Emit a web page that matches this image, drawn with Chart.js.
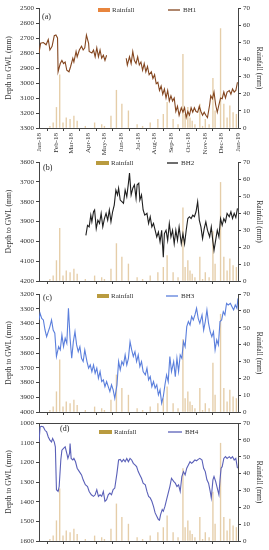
<!DOCTYPE html>
<html><head><meta charset="utf-8">
<script src="https://cdn.jsdelivr.net/npm/chart.js@4/dist/chart.umd.min.js"></script>
<style>
html,body{margin:0;padding:0;background:#fff;}
#wrap{position:relative;width:269px;height:550px;overflow:hidden;background:#fff;}
canvas{position:absolute;left:0;}
</style></head><body>
<div id="wrap">
<canvas id="ca" width="269" height="178" style="top:0px"></canvas>
<canvas id="cb" width="269" height="140" style="top:150px"></canvas>
<canvas id="cc" width="269" height="136" style="top:284px"></canvas>
<canvas id="cd" width="269" height="136" style="top:414px"></canvas>
</div>
<script>
// x axis: day of year 2018 (0 = 1 Jan 2018)
const monthStarts = [0,31,59,90,120,151,181,212,243,273,304,334,365];
const monthLabels = ['Jan-18','Feb-18','Mar-18','Apr-18','May-18','Jun-18','Jul-18','Aug-18','Sep-18','Oct-18','Nov-18','Dec-18','Jan-19'];

// Rainfall (mm), same station in all panels
const rainDays = [20,26,32,38,44,50,57,64,70,85,102,115,120,132,142,152,164,180,190,204,218,228,235,246,255,264,268,273,277,281,286,295,300,305,312,319,323,333,339,345,350,356,362];
const rainMm   = [1,3,12,31,3,6,5,7,4,1,3,2,1,7,22,14,10,2,1,3,5,8,15,5,2,43,8,12,6,4,2,14,1,5,2,29,10,58,14,6,13,9,8];

// BH1 depth to GWL (mm)
const bh1Days  = [0,3,8,13,17,20,24,28,31,34,35,39,42,45,48,51,55,58,62,64,68,70,74,78,81,84,87,91,92,97,100,103,106,109,112,115,118,121,124,140,160,162,166,169,172,175,178,181,184,187,190,193,196,199,202,206,209,212,215,218,221,224,227,230,233,236,239,242,245,248,251,254,257,261,264,267,270,273,276,279,282,285,288,291,294,297,300,303,306,309,313,315,318,321,324,327,330,333,336,339,342,345,349,352,355,358,361,364];
const bh1Depth = [2800,2735,2730,2745,2710,2780,2755,2685,2680,2700,2925,2870,2850,2870,2860,2915,2925,2890,2835,2860,2790,2825,2780,2755,2780,2765,2680,2735,2790,2800,2780,2825,2765,2825,2780,2835,2815,2850,2815,null,2835,2880,2825,2870,2790,2850,2870,2825,2880,2860,2915,2870,2925,2890,2945,2925,2970,2945,3005,2995,3050,3020,3075,3040,3100,3050,3120,3085,3120,3100,3190,3155,3215,3165,3195,3165,3230,3190,3215,3165,3195,3165,3190,3195,3155,3190,3215,3195,3215,3230,3145,3085,3105,3060,3145,3195,3145,3100,3105,3060,3100,3060,3050,3075,3040,3060,3050,2995];

// BH2
const bh2Days  = [86,89,92,95,97,100,102,105,108,111,114,117,120,123,126,129,132,135,138,141,144,146,149,152,155,158,161,164,166,169,172,175,178,180,183,185,188,191,194,198,201,204,207,210,213,216,219,222,225,228,230,233,236,239,242,245,248,251,254,257,261,264,267,270,273,276,279,282,285,288,291,294,297,300,303,306,309,313,316,319,321,324,327,330,333,336,339,342,345,349,352,355,358,361,364];
const bh2Depth = [3970,3919,3927,3868,3902,3851,3842,3936,3893,3910,3859,3927,3885,3859,3893,3842,3902,3851,3817,3741,3766,3732,3792,3800,3808,3741,3775,3707,3656,3766,3732,3715,3783,3715,3707,3792,3766,3842,3868,3859,3910,3876,3927,3910,3944,3978,3953,4003,3944,4080,3961,3944,3995,3910,3978,3944,4012,3944,3995,3927,4012,3961,4012,3944,3885,3876,3885,3868,3876,3851,3800,3893,3927,3986,3936,3902,3944,3978,3927,4003,4046,3995,3944,3978,3885,3919,3885,3902,3859,3876,3851,3885,3859,3880,3834];

// BH3
const bh3Days  = [0,2,5,8,11,14,17,20,23,26,29,32,36,39,42,45,48,51,54,57,60,63,66,69,72,75,78,81,84,88,91,94,97,100,103,106,109,112,115,118,121,124,127,130,133,136,139,143,146,149,152,155,158,161,164,167,170,173,176,179,182,185,188,191,195,198,201,204,207,210,213,216,219,222,225,228,231,234,237,240,243,247,250,253,256,259,262,265,268,271,274,277,280,283,286,289,292,295,299,302,305,308,311,314,317,320,323,326,329,332,335,338,341,344,347,351,354,357,360,363,365];
const bh3Depth = [3376,3331,3365,3376,3444,3489,3455,3421,3376,3444,3466,3624,3557,3579,3478,3557,3500,3534,3297,3500,3636,3523,3455,3545,3591,3557,3636,3658,3579,3658,3703,3681,3726,3681,3737,3703,3771,3726,3794,3782,3828,3794,3828,3861,3816,3850,3907,3816,3658,3715,3658,3681,3613,3681,3636,3523,3579,3624,3591,3658,3613,3692,3658,3726,3749,3703,3782,3760,3828,3794,3839,3816,3884,3850,3940,3895,3816,3749,3794,3624,3726,3658,3760,3636,3726,3613,3636,3523,3557,3421,3387,3410,3353,3376,3342,3297,3365,3399,3342,3444,3387,3308,3399,3455,3489,3455,3579,3511,3545,3387,3376,3320,3342,3263,3274,3263,3286,3308,3274,3297,3230];

// BH4
const bh4Days  = [0,2,5,8,11,14,17,20,23,25,28,30,32,35,37,40,42,45,48,51,53,56,57,59,62,64,67,70,74,78,81,85,89,92,96,100,103,106,109,112,115,118,121,124,127,130,133,136,139,143,146,149,152,155,158,161,164,167,170,173,176,179,182,185,188,191,195,198,201,204,207,210,213,216,219,221,223,226,228,231,234,237,240,243,247,250,253,256,259,262,265,268,271,274,277,280,283,286,289,292,295,299,302,305,308,311,314,316,319,321,324,327,330,332,334,336,339,342,345,349,352,355,358,361,364];
const bh4Depth = [1096,1020,1017,1020,1037,1045,1071,1087,1096,1079,1096,1121,1339,1348,1323,1188,1138,1129,1121,1155,1180,1155,1104,1180,1188,1180,1197,1230,1247,1264,1289,1314,1323,1348,1365,1373,1365,1339,1373,1365,1373,1348,1398,1390,1365,1356,1365,1339,1331,1255,1188,1185,1197,1185,1197,1180,1197,1180,1188,1205,1213,1222,1247,1264,1281,1306,1314,1348,1373,1381,1398,1424,1457,1474,1491,1494,1466,1440,1449,1424,1390,1356,1323,1281,1297,1306,1323,1314,1348,1272,1247,1264,1230,1213,1197,1205,1197,1188,1192,1185,1180,1188,1230,1247,1289,1306,1348,1381,1289,1272,1297,1331,1365,1289,1230,1222,1180,1171,1180,1171,1180,1171,1188,1180,1230];

const leftRange = {
  a: [2500, 3300], b: [3600, 4200], c: [3200, 4000], d: [1000, 1600]
};

Chart.defaults.font.family = "'Liberation Serif','Times New Roman',serif";
Chart.defaults.color = '#333';

const decor = {
  id: 'decor',
  afterDraw(chart, args, o) {
    const ctx = chart.ctx, a = chart.chartArea;
    const ds = chart.data.datasets;
    ctx.save();
    if (o.topBorder) {
      ctx.strokeStyle = '#444'; ctx.lineWidth = 1;
      ctx.beginPath(); ctx.moveTo(a.left, a.top + 0.5); ctx.lineTo(a.right, a.top + 0.5); ctx.stroke();
    }
    ctx.textBaseline = 'middle'; ctx.textAlign = 'left';
    ctx.fillStyle = '#222';
    ctx.font = "8px 'Liberation Serif'";
    ctx.fillText(o.label, o.labelX, a.top + o.labelDy);
    const ly = a.top + o.legendDy;
    ctx.fillStyle = o.swatch;
    ctx.fillRect(o.rainX, ly - 2, o.rainW, 4);
    ctx.font = "7px 'Liberation Serif'";
    ctx.fillStyle = '#333';
    ctx.fillText(ds[1].label, o.rainX + o.rainW + 2, ly);
    ctx.strokeStyle = ds[0].borderColor; ctx.lineWidth = 1.3;
    ctx.beginPath(); ctx.moveTo(o.lineX, ly); ctx.lineTo(o.lineX + o.lineW, ly); ctx.stroke();
    ctx.fillStyle = '#333';
    ctx.fillText(ds[0].label, o.lineX + o.lineW + 3, ly);
    ctx.restore();
  }
};

function pairs(xs, ys) { return xs.map((x, i) => ({ x: x, y: ys[i] })); }

function makePanel(id, p) {
  const rain = pairs(rainDays, rainMm);
  new Chart(document.getElementById(id), {
    type: 'line',
    data: {
      datasets: [
        { type: 'line', label: p.name, data: pairs(p.days, p.depth), yAxisID: 'y', xAxisID: 'x',
          borderColor: p.lineColor, borderWidth: 1.1, pointRadius: 0, tension: 0, spanGaps: false, order: 0 },
        { type: 'bar', label: 'Rainfall', data: rain, yAxisID: 'y1', xAxisID: 'x',
          backgroundColor: p.barColor, barThickness: 0.7, maxBarThickness: 1, grouped: false, order: 1 }
      ]
    },
    options: {
      responsive: false, animation: false, devicePixelRatio: 1,
      layout: { padding: { top: p.padTop, bottom: 0, left: 0, right: 0 } },
      plugins: {
        legend: { display: false }, tooltip: { enabled: false },
        decor: p.decor
      },
      scales: {
        x: {
          type: 'linear', min: 0, max: 365, offset: false,
          afterBuildTicks: s => { s.ticks = monthStarts.map(v => ({ value: v })); },
          afterFit: s => { s.height = p.xH; },
          ticks: { display: p.showX, autoSkip: false, minRotation: 90, maxRotation: 90, padding: 2,
                   font: { size: 7 }, color: '#333',
                   callback: (v, i) => monthLabels[i] },
          grid: { drawOnChartArea: false, drawTicks: true, tickLength: 3, color: '#444' },
          border: { display: true, color: '#444', width: 1 }
        },
        y: {
          position: 'left', reverse: true, min: p.yr[0], max: p.yr[1],
          afterFit: s => { s.width = 39; },
          ticks: { stepSize: 100, padding: 2, font: { size: 7 }, color: '#333', callback: v => String(v) },
          grid: { drawOnChartArea: false, drawTicks: true, tickLength: 3, color: '#444' },
          border: { display: true, color: '#444', width: 1 },
          title: { display: true, text: 'Depth to GWL (mm)', font: { size: 7.5 }, color: '#333', padding: { top: 5, bottom: 0 } }
        },
        y1: {
          position: 'right', min: 0, max: 70,
          afterFit: s => { s.width = 31; },
          ticks: { stepSize: 10, padding: 2, font: { size: 7 }, color: '#333', callback: v => String(v) },
          grid: { drawOnChartArea: false, drawTicks: true, tickLength: 3, color: '#444' },
          border: { display: true, color: '#444', width: 1 },
          title: { display: true, text: 'Rainfall (mm)', font: { size: 7.5 }, color: '#333', padding: { top: 6, bottom: 0 } }
        }
      }
    },
    plugins: [decor]
  });
}

const barTan = 'rgba(212,172,110,0.6)';
makePanel('ca', { name: 'BH1', days: bh1Days, depth: bh1Depth, lineColor: '#84461f', barColor: barTan,
  yr: leftRange.a, padTop: 8, xH: 50, showX: true,
  decor: { label: '(a)', labelX: 42, labelDy: 9, legendDy: 2, swatch: '#e8853d', rainX: 98, rainW: 12, lineX: 168, lineW: 12, topBorder: false } });
makePanel('cb', { name: 'BH2', days: bh2Days, depth: bh2Depth, lineColor: '#1e1e1e', barColor: barTan,
  yr: leftRange.b, padTop: 12, xH: 9, showX: false,
  decor: { label: '(b)', labelX: 43, labelDy: 6, legendDy: 1, swatch: '#b99b3f', rainX: 96, rainW: 13, lineX: 167, lineW: 11, topBorder: false } });
makePanel('cc', { name: 'BH3', days: bh3Days, depth: bh3Depth, lineColor: '#5b7fdc', barColor: barTan,
  yr: leftRange.c, padTop: 10, xH: 8, showX: false,
  decor: { label: '(c)', labelX: 43, labelDy: 4, legendDy: 2, swatch: '#b99b3f', rainX: 97, rainW: 12, lineX: 166, lineW: 12, topBorder: false } });
makePanel('cd', { name: 'BH4', days: bh4Days, depth: bh4Depth, lineColor: '#5a60b8', barColor: barTan,
  yr: leftRange.d, padTop: 9, xH: 9, showX: false,
  decor: { label: '(d)', labelX: 60, labelDy: 6, legendDy: 9, swatch: '#b99b3f', rainX: 99, rainW: 13, lineX: 168, lineW: 14, topBorder: true } });
</script>
</body></html>
